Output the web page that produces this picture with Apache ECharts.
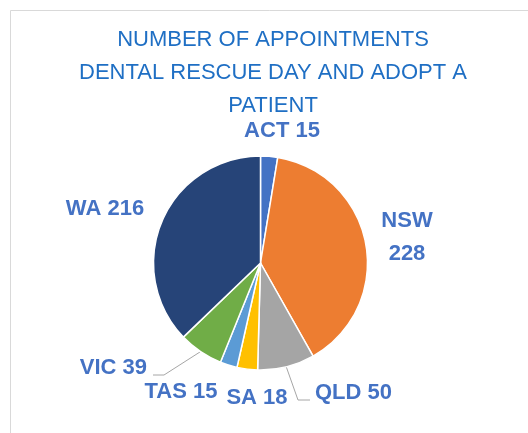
<!DOCTYPE html>
<html><head><meta charset="utf-8">
<script src="https://cdn.jsdelivr.net/npm/echarts@6/dist/echarts.min.js"></script>
<style>html,body{margin:0;padding:0;background:#fff}#c{width:528px;height:433px}</style>
</head><body><div id="c"></div>
<script>
// ---- data ----
const categories = ['ACT', 'NSW', 'QLD', 'SA', 'TAS', 'VIC', 'WA'];
const values = [15, 228, 50, 18, 15, 39, 216];
const titleLines = ['NUMBER OF APPOINTMENTS', 'DENTAL RESCUE DAY AND ADOPT A', 'PATIENT'];

// ---- style ----
const colors = ['#4472C4', '#ED7D31', '#A5A5A5', '#FFC000', '#5B9BD5', '#70AD47', '#264478'];
const CX = 260.5, CY = 263, R = 107;
// label anchors relative to pie centre, with alignment
const labelPlace = {
  ACT: { d: [21.5, -132], align: 'center' },
  NSW: { d: [146.5, -25.5], align: 'center' },
  QLD: { d: [54.5, 130], align: 'left', line: [[37.5, 137], [49.5, 137]] },
  SA:  { d: [-3.5, 135], align: 'center' },
  TAS: { d: [-79.5, 129], align: 'center' },
  VIC: { d: [-113.5, 105], align: 'right', line: [[-96.5, 112], [-107.5, 112]] },
  WA:  { d: [-155.5, -54], align: 'center' }
};

const total = values.reduce((a, b) => a + b, 0);
const midAngles = [];
let acc = 0;
values.forEach(v => { midAngles.push((acc + v / 2) / total * 2 * Math.PI); acc += v; });

const chart = echarts.init(document.getElementById('c'), null, { renderer: 'canvas' });
chart.setOption({
  animation: false,
  backgroundColor: '#fff',
  graphic: [{
    type: 'rect', silent: true, z: -10,
    shape: { x: 10.5, y: 10.5, width: 600, height: 600 },
    style: { fill: 'none', stroke: '#D9D9D9', lineWidth: 1 }
  }],
  title: {
    text: titleLines.join('\n'),
    left: 273, top: 23, padding: 0, textAlign: 'center',
    textStyle: { fontFamily: 'Liberation Sans', fontSize: 22, fontWeight: 'normal', color: '#1F6FC4', lineHeight: 33 }
  },
  series: [{
    type: 'pie',
    center: [CX, CY], radius: R,
    startAngle: 90, clockwise: true,
    avoidLabelOverlap: false,
    itemStyle: { borderColor: '#FFFFFF', borderWidth: 1.5 },
    label: {
      show: true, position: 'outside',
      fontFamily: 'Liberation Sans', fontSize: 22, fontWeight: 'bold', color: '#4472C4', lineHeight: 33,
      formatter: p => p.name === 'NSW' ? p.name + '\n' + p.value : p.name + ' ' + p.value
    },
    labelLine: { show: false, lineStyle: { color: '#A6A6A6', width: 1 } },
    data: categories.map((c, i) => ({
      name: c, value: values[i],
      itemStyle: { color: colors[i] },
      labelLine: { show: !!labelPlace[c].line }
    })),
    labelLayout: function (params) {
      const i = params.dataIndex;
      const lp = labelPlace[categories[i]];
      const out = { x: CX + lp.d[0], y: CY + lp.d[1], align: lp.align, verticalAlign: 'middle' };
      if (lp.line) {
        const a = midAngles[i];
        out.labelLinePoints = [
          [CX + R * Math.sin(a), CY - R * Math.cos(a)],
          [CX + lp.line[0][0], CY + lp.line[0][1]],
          [CX + lp.line[1][0], CY + lp.line[1][1]]
        ];
      }
      return out;
    }
  }]
});
</script>
</body></html>
